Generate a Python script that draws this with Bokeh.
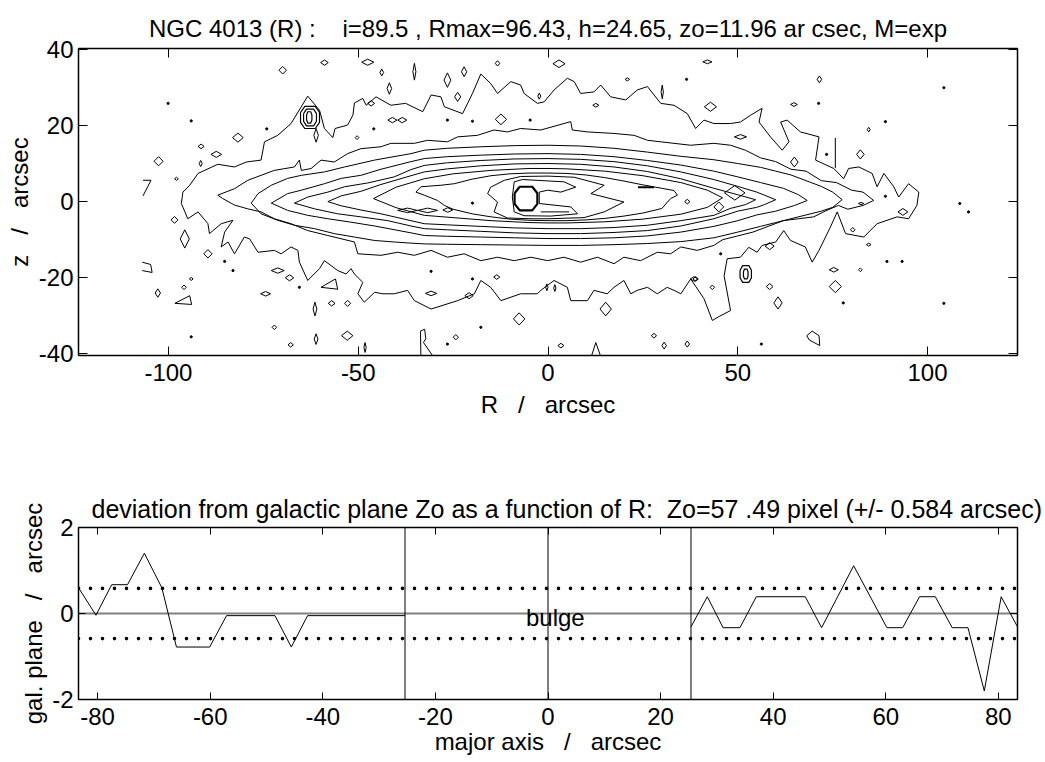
from bokeh.plotting import figure
from bokeh.layouts import column
from bokeh.models import Range1d, LinearAxis, FixedTicker, Label
from bokeh.embed import file_html
from bokeh.resources import INLINE

FONT = "Liberation Sans"

# ---------------- isophote map (R, z in arcsec) ----------------
iso_a = [(-96.6,-0.5),(-96.2,2.5),(-94.4,4.3),(-92.2,7.4),(-87.0,9.8),(-82.6,9.1),(-79.5,10.4),(-75.6,10.9),
         (-74.7,15.7),(-71.2,17.4),(-67.7,20.5),(-63.3,27.7),(-60.2,24.0),(-58.9,19.2),(-56.7,16.8),(-56.1,19.2),
         (-52.8,20.1),(-51.4,22.7),(-51.0,25.9),(-48.8,27.1),(-47.9,25.3),(-45.3,27.5),(-41.4,25.3),(-37.5,25.8),
         (-33.0,23.6),(-30.8,28.0),(-28.2,27.5),(-27.3,24.9),(-22.5,23.1),(-19.9,28.4),(-17.7,33.5),(-15.1,31.0),
         (-13.3,28.4),(-9.8,31.5),(-7.2,30.6),(-6.3,28.4),(-2.8,25.8),(-1.0,26.2),(1.6,29.3),(5.1,32.4),(6.9,31.5),
         (8.6,28.4),(12.1,28.8),(13.9,30.6),(16.5,27.5),(20.5,26.7),(23.5,29.3),(26.2,30.2),(29.7,25.8),(33.2,25.3),
         (36.7,23.1),(38.9,19.2),(41.1,21.4),(43.7,20.5),(48.1,20.5),(50.7,20.9),(53.4,22.7),(56.4,24.5),(55.6,20.9),
         (58.6,17.0),(61.7,13.5),(63.5,15.7),(61.3,20.9),(63.0,21.4),(66.5,18.3),(71.4,17.0),(70.5,10.9),(75.3,8.7),
         (77.9,6.0),(79.2,8.7),(81.9,9.1),(85.4,7.4),(86.7,3.9),(88.5,7.4),(91.1,3.9),(92.4,1.2),(95.0,4.7),(97.7,2.5),
         (97.2,-1.0),(95.0,-4.5),(92.0,-4.0),(86.7,-5.8),(83.2,-9.3),(78.4,-8.4),(76.2,-2.7),(74.4,-6.7),(71.4,-12.8),
         (69.6,-15.9),(67.8,-11.9),(63.9,-10.2),(62.1,-7.6),(60.0,-10.6),(56.4,-11.5),(55.1,-13.3),(52.9,-12.0),
         (50.7,-14.6),(47.2,-15.0),(46.4,-19.5),(48.1,-28.6),(45.0,-30.2),(43.3,-31.2),(41.1,-25.5),(37.6,-20.3),
         (35.0,-24.2),(33.2,-23.3),(31.4,-22.5),(28.8,-24.2),(26.2,-22.5),(23.5,-23.3),(21.8,-24.2),(20.0,-20.7),
         (17.4,-22.5),(15.6,-24.2),(12.1,-23.3),(10.4,-26.0),(6.0,-26.0),(5.1,-22.5),(1.6,-20.7),(-1.9,-23.3),
         (-2.8,-24.2),(-7.2,-24.2),(-12.4,-26.0),(-15.1,-22.5),(-17.7,-20.7),(-19.4,-24.2),(-23.8,-26.0),(-30.8,-28.2),
         (-35.2,-26.0),(-37.0,-23.3),(-40.5,-24.2),(-43.5,-24.2),(-45.7,-23.8),(-48.4,-26.4),(-50.1,-24.2),(-48.8,-21.2),
         (-51.0,-19.0),(-51.9,-17.6),(-53.2,-19.0),(-55.4,-18.1),(-58.9,-15.5),(-60.2,-17.6),(-63.3,-20.7),(-65.5,-15.9),
         (-65.9,-12.8),(-67.7,-11.9),(-70.3,-13.7),(-72.1,-12.8),(-76.4,-13.3),(-78.6,-9.8),(-80.0,-9.3),(-82.6,-13.7),
         (-84.3,-10.6),(-86.1,-11.9),(-85.2,-8.0),(-83.0,-4.9),(-86.1,-5.8),(-89.2,-8.4),(-89.6,-5.8),(-92.2,-2.7),
         (-94.9,-4.5),(-96.6,-0.5)]

iso_b = [(-87.0,1.7),(-82.6,3.4),(-79.1,5.6),(-75.6,6.9),(-72.1,8.2),(-66.8,9.1),(-65.5,10.9),(-65.0,8.2),(-62.4,8.7),
         (-59.8,10.9),(-56.3,10.4),(-52.8,12.6),(-49.3,13.9),(-44.0,14.4),(-41.4,15.3),(-35.2,15.3),(-31.7,16.1),
         (-26.5,15.7),(-23.8,17.0),(-18.6,17.4),(-14.2,18.8),(-10.7,18.3),(-7.2,19.2),(-1.9,18.8),(6.0,21.0),(6.4,18.8),
         (10.4,18.3),(17.4,17.9),(22.7,17.4),(26.2,16.1),(33.2,15.3),(37.6,14.8),(43.7,15.3),(48.1,14.8),(52.0,13.5),
         (56.0,11.5),(60.0,10.5),(64.0,8.5),(68.0,8.0),(72.0,5.5),(76.0,5.0),(80.0,3.0),(83.0,2.5),(85.8,0.3),
         (83.0,-1.0),(79.0,-2.0),(76.5,-1.0),(73.0,-2.5),(70.0,-4.0),(66.0,-4.5),(62.0,-5.0),(58.0,-6.5),(54.0,-8.0),
         (50.0,-9.0),(46.0,-10.0),(43.7,-11.5),(39.3,-12.8),(35.0,-11.9),(32.3,-13.7),(28.8,-13.3),(24.4,-15.5),
         (20.0,-14.6),(17.4,-16.3),(13.0,-14.6),(8.6,-15.9),(4.2,-14.6),(-0.1,-15.5),(-4.5,-14.6),(-8.9,-15.5),
         (-13.3,-14.6),(-17.7,-15.5),(-22.1,-13.7),(-26.5,-14.6),(-30.8,-12.8),(-35.2,-14.1),(-39.6,-13.3),
         (-44.0,-14.1),(-50.1,-13.7),(-51.0,-10.6),(-58.0,-8.9),(-63.3,-7.6),(-67.7,-5.8),(-72.1,-4.5),(-75.6,-2.7),
         (-79.1,-1.9),(-82.6,-0.9),(-85.7,0.8),(-87.0,1.7)]

iso_c = [(-78.2,-0.4),(-76.4,2.1),(-72.9,4.3),(-68.6,6.1),(-65.0,6.9),(-58.9,7.8),(-53.6,9.1),(-45.7,10.9),
         (-36.1,12.6),(-32.6,13.5),(-26.5,14.0),(-17.7,14.4),(-8.9,14.7),(0.0,14.8),(8.6,14.6),(17.4,14.0),(26.2,13.0),
         (35.0,11.9),(43.7,11.0),(50.0,10.0),(56.0,9.0),(60.0,8.0),(64.0,7.0),(68.0,5.5),(72.0,4.0),(75.0,2.5),
         (77.5,0.5),(75.0,-1.5),(72.0,-2.5),(68.0,-3.5),(64.0,-4.5),(60.0,-5.5),(56.0,-6.5),(50.0,-8.0),(43.7,-9.5),
         (35.0,-10.5),(26.2,-11.0),(17.4,-11.3),(8.6,-11.5),(0.0,-11.5),(-8.9,-11.4),(-17.7,-11.3),(-26.5,-11.2),
         (-32.6,-11.1),(-36.1,-10.9),(-40.5,-10.6),(-45.7,-10.2),(-51.0,-9.3),(-56.3,-8.4),(-61.5,-7.1),(-66.8,-6.2),
         (-71.2,-4.9),(-75.6,-3.2),(-78.2,-0.4)]

iso_d = [(-72.9,-0.4),(-68.6,2.1),(-65.0,3.0),(-58.9,4.7),(-54.5,6.1),(-49.3,6.9),(-44.0,8.5),(-36.1,10.5),
         (-32.6,11.3),(-26.5,11.8),(-17.7,12.2),(-8.9,12.5),(0.0,12.6),(8.6,12.4),(17.4,11.8),(26.2,10.8),(35.0,9.6),
         (43.7,8.0),(50.0,6.5),(56.0,5.0),(62.0,3.5),(66.0,1.8),(68.3,0.3),(65.0,-1.0),(60.0,-2.5),(55.0,-3.5),
         (50.0,-5.0),(43.7,-6.5),(35.0,-8.0),(26.2,-9.0),(17.4,-9.5),(8.6,-9.7),(0.0,-9.7),(-8.9,-9.5),(-17.7,-9.3),
         (-26.5,-9.1),(-32.6,-8.9),(-36.1,-8.2),(-45.7,-6.4),(-51.9,-5.4),(-58.0,-4.5),(-63.3,-3.6),(-68.6,-2.3),
         (-72.9,-0.4)]

iso_e = [(-66.8,-0.4),(-63.3,1.2),(-58.0,2.5),(-53.6,3.9),(-47.5,4.9),(-40.5,6.5),(-36.1,8.4),(-32.6,9.5),
         (-26.5,10.2),(-17.7,10.8),(-8.9,11.2),(0.0,11.3),(8.6,11.1),(17.4,10.5),(26.2,9.4),(35.0,7.8),(43.7,5.8),
         (50.0,4.0),(55.0,2.5),(60.0,0.5),(57.0,-0.8),(55.0,-1.5),(50.0,-2.5),(43.7,-4.5),(35.0,-6.4),(26.2,-7.6),
         (17.4,-8.1),(8.6,-8.4),(0.0,-8.4),(-8.9,-8.2),(-17.7,-7.8),(-26.5,-7.4),(-32.6,-7.1),(-36.1,-6.4),
         (-42.2,-5.0),(-49.3,-4.0),(-55.4,-3.2),(-61.5,-1.9),(-66.8,-0.4)]

iso_f = [(-58.0,0.0),(-54.5,1.5),(-49.3,2.7),(-44.0,4.5),(-36.1,6.8),(-32.6,7.8),(-26.5,8.6),(-17.7,9.4),
         (-8.9,9.9),(0.0,10.0),(8.6,9.8),(17.4,9.1),(26.2,7.9),(35.0,6.0),(43.7,3.5),(50.0,1.8),(54.7,0.5),
         (52.0,-0.8),(48.0,-1.8),(43.7,-3.6),(35.0,-5.0),(26.2,-6.2),(17.4,-6.8),(8.6,-7.1),(0.0,-7.1),(-8.9,-6.9),
         (-17.7,-6.5),(-26.5,-6.1),(-32.6,-5.8),(-36.1,-5.0),(-44.0,-3.2),(-49.3,-2.2),(-54.5,-1.1),(-58.0,0.0)]

iso_x = [(-46.0,0.8),(-40.0,3.8),(-32.6,6.0),(-25.0,7.3),(-15.0,8.2),(-5.0,8.7),(0.0,8.7),(5.0,8.6),(15.0,8.0),
         (25.0,6.8),(35.0,5.0),(42.0,3.0),(46.0,1.0),(42.0,-1.5),(35.0,-3.3),(25.0,-4.6),(15.0,-5.3),(5.0,-5.6),
         (0.0,-5.6),(-5.0,-5.5),(-15.0,-5.0),(-25.0,-4.2),(-32.6,-3.6),(-40.0,-1.6),(-46.0,0.8)]

iso_g = [(-34.8,2.5),(-33.5,3.9),(-28.2,4.3),(-24.7,4.7),(-20.0,5.9),(-15.0,6.8),(-10.0,7.3),(-5.0,7.5),(0.0,7.5),
         (5.0,7.4),(10.0,7.0),(15.0,6.3),(20.0,5.4),(25.0,4.4),(30.0,3.5),(33.2,2.9),(34.1,1.7),(32.3,0.8),
         (30.0,-1.8),(25.0,-3.0),(20.0,-3.8),(15.0,-4.4),(10.0,-4.8),(5.0,-5.0),(0.0,-5.0),(-5.0,-4.9),(-10.0,-4.6),
         (-15.0,-4.0),(-20.0,-3.2),(-25.0,-2.0),(-27.3,-1.0),(-29.1,0.3),(-32.6,1.7),(-34.8,2.5)]

iso_h = [(-15.1,3.8),(-11.5,5.6),(-7.2,6.6),(0.0,6.7),(6.9,6.4),(14.8,4.3),(11.3,2.1),(20.0,-0.1),(14.8,-2.7),
         (9.5,-4.2),(0.0,-4.5),(-4.5,-4.5),(-10.7,-4.3),(-14.2,-2.7),(-13.3,-0.1),(-15.9,2.1),(-15.1,3.8)]

iso_j = [(-8.9,5.2),(-6.7,5.8),(4.2,5.2),(7.3,3.8),(3.4,2.5),(-0.1,3.0),(-2.3,2.5),(-2.3,-0.5),(6.0,-1.4),
         (7.8,-3.2),(0.7,-3.8),(-6.3,-3.7),(-8.9,-2.7),(-9.4,1.2),(-8.9,5.2)]

# open isophote fragments
frag_lines = [
    [(-106.7,5.6),(-104.6,5.6),(-106.7,1.5)],
    [(-106.9,-15.9),(-104.7,-16.5),(-104.3,-18.6),(-106.9,-18.1)],
    [(-98.3,-26.7),(-94.4,-24.7),(-93.9,-27.0),(-98.3,-26.7)],
    [(-59.8,-22.5),(-56.0,-20.3),(-55.4,-23.0),(-59.8,-22.5)],
    [(-33.5,-40.3),(-33.6,-34.0),(-32.5,-33.5),(-32.2,-36.0),(-32.8,-37.0),(-30.5,-40.3)],
    [(11.5,-40.4),(12.6,-37.0),(13.8,-40.4)],
    [(68.2,-35.2),(69.6,-34.0),(71.4,-35.2),(71.6,-37.8),(68.8,-36.3),(68.2,-35.2)],
    [(75.7,16.7),(75.7,8.8)],
    [(-1.9,-2.7),(5.6,-2.7)],
]
bar_r = [23.7, 27.9]
bar_z = [3.8, 3.8]

# small closed isophotes: centre R, centre z, half width, half height
isl_r = [-69.9,-58.9,-47.5,-43.8,-41.8,-46.6,-81.7,-91.4,-87.4,-91.5,-102.6,-97.9,-98.4,-95.7,-89.6,-94.0,-95.9,
         -102.8,-71.2,-68.1,-74.4,-61.4,-57.0,-52.8,-72.1,-67.8,-61.1,-52.9,-48.2,-61.1,-50.3,
         -35.2,-26.5,-22.1,-23.8,-13.3,2.9,20.9,30.1,42.0,42.8,12.6,-2.3,-41.0,-38.4,-12.4,-13.5,-30.8,-20.8,-0.3,
         1.8,-7.6,-24.3,3.4,15.2,27.9,30.6,36.7,38.5,43.3,
         71.5,64.8,50.7,84.5,82.3,64.9,93.5,82.5,80.3,84.5,82.3,75.3,75.7,58.4,58.4,60.6,38.9,45.0,
         -37.0,-31.7,-26.4,49.2,36.7]
isl_z = [34.5,36.5,36.6,33.9,29.7,25.8,16.8,14.5,12.4,10.0,10.6,6.0,-4.8,-9.8,-13.7,-20.3,-22.5,
         -24.0,-18.1,-20.0,-24.2,-28.2,-26.7,-26.7,-33.0,-37.6,-36.1,-35.2,-38.3,17.4,16.8,
         34.1,31.9,34.1,27.5,36.3,36.2,32.1,28.8,36.7,24.9,25.3,27.7,21.4,21.4,21.6,-19.8,-24.1,-24.7,-22.5,
         -22.7,-30.8,-35.6,-37.8,-28.2,-35.2,-37.8,-37.4,-20.3,-22.5,
         32.1,25.5,17.0,18.9,12.4,10.4,-2.7,-0.5,-7.4,-11.3,-17.9,-17.9,-22.3,-11.7,-22.3,-26.6,-20.3,-1.4,
         -2.3,-2.3,-2.2,2.3,0.0]
isl_w = [1.0,1.0,1.6,0.5,0.6,0.9,1.4,0.8,1.4,0.4,1.2,0.5,0.9,1.2,1.1,0.5,0.6,
         0.7,1.7,1.1,1.3,0.5,0.9,0.8,0.6,0.7,0.5,1.5,0.3,0.6,0.5,
         0.4,0.9,0.7,0.8,0.6,1.6,0.6,0.3,1.2,1.6,0.8,0.4,1.2,1.2,1.5,0.8,1.5,1.1,0.3,
         0.3,1.5,0.7,0.8,1.5,0.7,0.6,0.6,1.0,0.6,
         0.6,0.9,1.6,0.4,1.0,1.0,1.3,0.7,0.6,0.6,0.5,1.2,1.6,1.2,0.9,1.1,0.7,1.3,
         2.6,2.6,1.3,2.7,0.7]
isl_h = [1.0,0.7,0.8,0.9,1.5,0.7,1.2,0.6,0.8,0.8,1.2,0.4,0.9,2.4,1.1,0.4,0.6,
         1.1,0.7,0.8,0.6,1.8,0.7,0.8,0.6,0.6,1.4,1.2,1.3,1.8,0.5,
         2.2,1.9,1.3,1.2,0.7,1.0,0.4,1.8,0.5,1.2,0.5,0.8,0.7,0.7,1.4,0.6,0.6,0.8,0.9,
         0.9,1.6,0.7,0.6,1.8,0.6,0.9,0.8,0.6,0.6,
         0.9,0.5,0.6,0.6,1.2,1.3,0.9,0.3,0.6,0.4,0.5,0.6,1.6,0.9,0.8,1.6,0.6,1.3,
         0.6,0.6,0.6,1.9,0.6]

# nested knots (star at upper left, star at lower right) and the nucleus
knot_r = [-62.7,-62.7,-62.9,52.1,52.1]
knot_z = [22.1,22.1,22.1,-19.0,-19.0]
knot_w = [2.5,1.7,0.7,1.5,0.6]
knot_h = [2.9,2.2,1.5,2.2,1.3]
nucleus = (-5.8, 0.8, 3.0, 3.1)

# single-pixel isophote specks
dot_r = [-94.0,-74.1,-45.9,-85.2,-83.0,-65.5,-94.0,-19.9,-4.7,-26.5,36.5,-30.8,-19.9,-17.7,-26.5,45.5,104.3,71.3,
         88.9,73.4,88.9,108.5,110.8,89.3,93.3,77.8,104.3,56.2,-100.1,-19.9]
dot_z = [21.2,19.1,19.1,-15.7,-18.1,-22.5,-35.5,21.1,21.4,21.4,32.1,-18.3,-20.3,-33.0,-37.4,-13.7,29.9,25.8,
         21.0,12.4,1.4,-0.5,-2.7,-15.7,-15.7,-26.6,-26.7,-37.4,25.8,-0.4]

# ---------------- deviation from the galactic plane ----------------
left_r = [-83.4,-80.3,-77.5,-74.7,-71.7,-68.6,-66.0,-60.1,-57.1,-48.5,-45.6,-42.7,-25.4]
left_dev = [0.60,-0.04,0.67,0.67,1.40,0.60,-0.78,-0.78,-0.05,-0.05,-0.78,-0.05,-0.05]
right_r = [25.4,28.3,31.1,34.1,37.0,45.7,48.6,54.3,60.2,63.0,66.0,68.8,71.8,74.6,77.5,80.5,83.4]
right_dev = [-0.31,0.39,-0.33,-0.33,0.39,0.39,-0.33,1.11,-0.33,-0.33,0.39,0.39,-0.33,-0.33,-1.80,0.39,-0.31]
bulge_edges = [-25.4, 0.0, 25.4]
zo_err = 0.584

TOP_TITLE = "NGC 4013 (R) :\u00a0\u00a0\u00a0 i=89.5 , Rmax=96.43, h=24.65, zo=11.96 ar csec, M=exp"
BOT_TITLE = "deviation from galactic plane Zo as a function of R:\u00a0 Zo=57 .49 pixel (+/- 0.584 arcsec)"

SIZE = "24px"


def style_axis(ax, ticks, tick_len, show_labels=True):
    ax.ticker = FixedTicker(ticks=ticks)
    ax.minor_tick_line_color = None
    ax.major_tick_in = tick_len
    ax.major_tick_out = 0
    ax.major_tick_line_color = "black"
    ax.axis_line_color = "black"
    ax.axis_line_width = 1.5
    ax.major_label_text_font = FONT
    ax.axis_label_text_font = FONT
    ax.axis_label_text_font_style = "normal"
    ax.axis_label_text_color = "black"
    ax.axis_label_text_font_size = SIZE
    if show_labels:
        ax.major_label_text_font_size = SIZE
        ax.major_label_text_color = "black"
        # plain hyphen minus signs on the tick labels
        ax.major_label_overrides = {t: ("%g" % t) for t in ticks}
    else:
        ax.major_label_text_font_size = "1px"
        ax.major_label_text_color = None
        ax.major_label_standoff = 0


def mirror(p, ticks, side, tick_len):
    ax = LinearAxis()
    style_axis(ax, ticks, tick_len, show_labels=False)
    p.add_layout(ax, side)


def style_title(t, size):
    t.text_font = FONT
    t.text_font_size = size
    t.text_font_style = "normal"
    t.text_color = "black"


# ---------------- top panel: isophotes ----------------
p1 = figure(width=1045, height=432, x_range=Range1d(-123.7, 123.7), y_range=Range1d(-40.4, 40.2),
            output_backend="svg", toolbar_location=None,
            min_border_left=77, min_border_right=28, min_border_top=48, min_border_bottom=77)
p1.grid.visible = False
p1.outline_line_color = "black"

x1_ticks = [-100, -50, 0, 50, 100]
y1_ticks = [-40, -20, 0, 20, 40]
style_axis(p1.xaxis[0], x1_ticks, 9)
style_axis(p1.yaxis[0], y1_ticks, 9)
p1.xaxis.axis_label = "R\u00a0\u00a0 /\u00a0\u00a0 arcsec"
p1.yaxis.axis_label = "z\u00a0\u00a0 /\u00a0\u00a0 arcsec"
p1.xaxis.major_label_standoff = 8
p1.yaxis.major_label_standoff = 5
p1.xaxis.axis_label_standoff = 7
p1.yaxis.axis_label_standoff = 3
mirror(p1, x1_ticks, "above", 9)
mirror(p1, y1_ticks, "right", 9)

p1.title.text = TOP_TITLE
p1.title.align = "center"
p1.title.vertical_align = "top"
p1.title.standoff = 10
style_title(p1.title, SIZE)

main_iso = [iso_a, iso_b, iso_c, iso_d, iso_e, iso_f, iso_x, iso_g, iso_h, iso_j] + frag_lines
p1.multi_line(xs=[[pt[0] for pt in c] for c in main_iso], ys=[[pt[1] for pt in c] for c in main_iso],
              line_color="black", line_width=1)


def diamond(cr, cz, w, h):
    return [cr - w, cr, cr + w, cr, cr - w], [cz, cz + h, cz, cz - h, cz]


def octagon(cr, cz, w, h):
    fr = [-1.0, -0.55, 0.55, 1.0, 1.0, 0.55, -0.55, -1.0, -1.0]
    fz = [0.45, 1.0, 1.0, 0.45, -0.45, -1.0, -1.0, -0.45, 0.45]
    return [cr + w * a for a in fr], [cz + h * b for b in fz]


dxs, dys = [], []
for cr, cz, w, h in zip(isl_r, isl_z, isl_w, isl_h):
    xs_, ys_ = diamond(cr, cz, w, h)
    dxs.append(xs_)
    dys.append(ys_)
p1.multi_line(xs=dxs, ys=dys, line_color="black", line_width=1)

kxs, kys = [], []
for cr, cz, w, h in zip(knot_r, knot_z, knot_w, knot_h):
    xs_, ys_ = octagon(cr, cz, w, h)
    kxs.append(xs_)
    kys.append(ys_)
p1.multi_line(xs=kxs, ys=kys, line_color="black", line_width=1.2)

nx, ny = octagon(*nucleus)
p1.line(nx, ny, line_color="black", line_width=2.2)
p1.line(bar_r, bar_z, line_color="black", line_width=2)
p1.scatter(dot_r, dot_z, size=2.2, color="black")

# ---------------- bottom panel: plane deviation ----------------
p2 = figure(width=1045, height=330, x_range=Range1d(-83.4, 83.4), y_range=Range1d(-2, 2),
            output_backend="svg", toolbar_location=None,
            min_border_left=78, min_border_right=28, min_border_top=95, min_border_bottom=63)
p2.grid.visible = False
p2.outline_line_color = "black"
x2_ticks = [-80, -60, -40, -20, 0, 20, 40, 60, 80]
y2_ticks = [-2, 0, 2]
style_axis(p2.xaxis[0], x2_ticks, 7)
style_axis(p2.yaxis[0], y2_ticks, 7)
p2.xaxis.axis_label = "major axis\u00a0\u00a0 /\u00a0\u00a0 arcsec"
p2.yaxis.axis_label = "gal. plane\u00a0\u00a0 /\u00a0\u00a0 arcsec"
p2.xaxis.major_label_standoff = 8
p2.yaxis.major_label_standoff = 5
p2.xaxis.axis_label_standoff = 0
p2.yaxis.axis_label_standoff = 2
mirror(p2, x2_ticks, "above", 7)
mirror(p2, y2_ticks, "right", 7)

p2.title.text = BOT_TITLE
p2.title.align = "left"
p2.title.offset = 13
style_title(p2.title, "25px")

xr = [-83.4, 83.4]
p2.line(xr, [0, 0], line_color="#808080", line_width=2)
p2.line(xr, [zo_err, zo_err], line_color="black", line_width=3.6, line_dash="0 12", line_cap="round")
p2.line(xr, [-zo_err, -zo_err], line_color="black", line_width=3.6, line_dash="0 12", line_cap="round")
for e in bulge_edges:
    p2.line([e, e], [-2, 2], line_color="black", line_width=1)
p2.line(left_r, left_dev, line_color="black", line_width=1)
p2.line(right_r, right_dev, line_color="black", line_width=1)
p2.add_layout(Label(x=1.3, y=-0.1, text="bulge", text_font=FONT, text_font_size=SIZE,
                    text_align="center", text_baseline="middle", text_color="black"))

layout = column(p1, p2, spacing=0)
open("out.html", "w").write(file_html(layout, INLINE))
